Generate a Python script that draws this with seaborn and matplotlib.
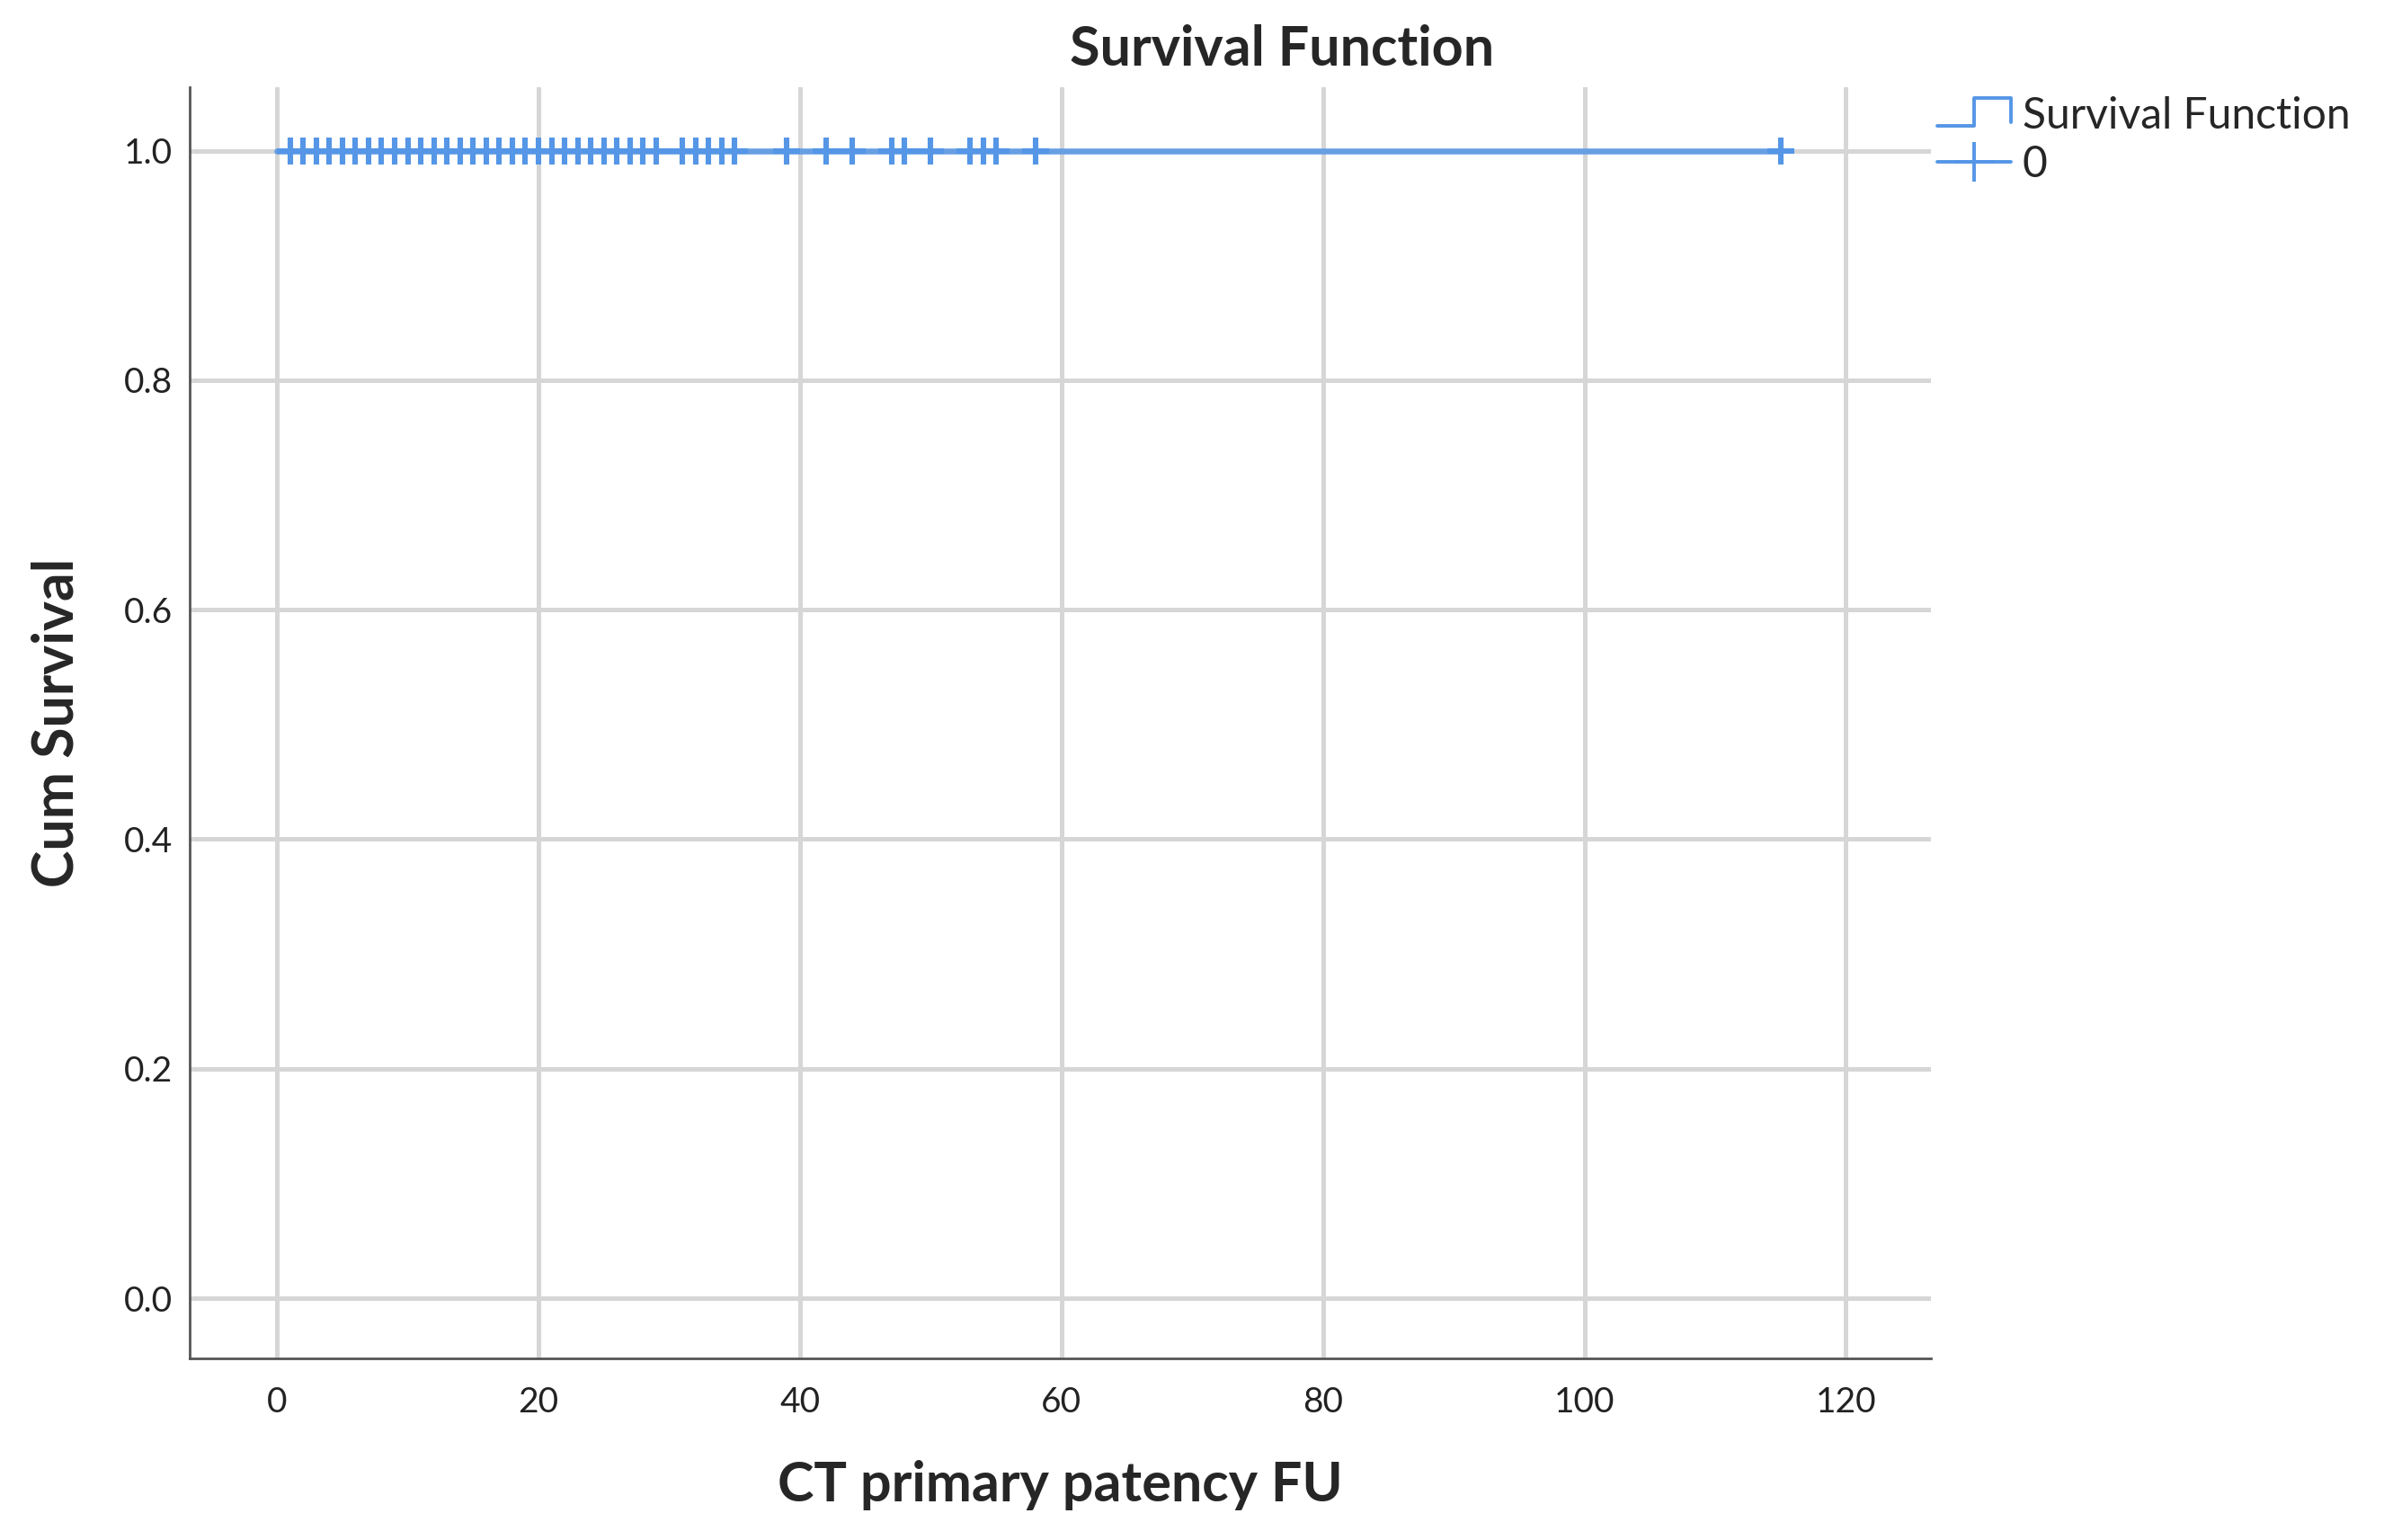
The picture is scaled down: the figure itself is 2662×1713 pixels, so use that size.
import numpy as np
import pandas as pd
import matplotlib
matplotlib.use("Agg")
import matplotlib.pyplot as plt
from matplotlib.lines import Line2D
from matplotlib.legend_handler import HandlerBase
import seaborn as sns

# follow-up times (months) read off the censor marks, no events observed
fu_months = [1, 2, 3, 4, 5, 6, 7, 8, 9, 10, 11, 12, 13, 14, 15, 16, 17, 18, 19, 20,
             21, 22, 23, 24, 25, 26, 27, 28, 29, 31, 32, 33, 34, 35, 39, 42, 44, 47,
             48, 50, 53, 54, 55, 58, 115]
event = [0, 0, 0, 0, 0, 0, 0, 0, 0, 0, 0, 0, 0, 0, 0, 0, 0, 0, 0, 0,
         0, 0, 0, 0, 0, 0, 0, 0, 0, 0, 0, 0, 0, 0, 0, 0, 0, 0,
         0, 0, 0, 0, 0, 0, 0]
x_ticks = [0, 20, 40, 60, 80, 100, 120]
y_ticks = [0.0, 0.2, 0.4, 0.6, 0.8, 1.0]

BLUE = "#5596e6"

# Kaplan-Meier estimate
df = pd.DataFrame({"time": fu_months, "event": event}).sort_values("time")
surv = 1.0
curve = [(0.0, 1.0)]
censored = []
n_risk = len(df)
for t, grp in df.groupby("time"):
    d = grp["event"].sum()
    surv *= (1 - d / n_risk)
    curve.append((t, surv))
    if (grp["event"] == 0).any():
        censored.append((t, surv))
    n_risk -= len(grp)
curve_df = pd.DataFrame(curve, columns=["time", "surv"])
cens_df = pd.DataFrame(censored, columns=["time", "surv"])

sns.set_style("white")
plt.rcParams["font.family"] = ["Lato", "DejaVu Sans"]

fig = plt.figure(figsize=(13.31, 8.565), dpi=200)
ax = fig.add_axes([0.0793, 0.1179, 0.8069 - 0.0793, 0.9436 - 0.1179])

sns.lineplot(data=curve_df, x="time", y="surv", drawstyle="steps-post",
             estimator=None, color=BLUE, linewidth=2.4, alpha=0.85, ax=ax, zorder=3)
sns.scatterplot(data=cens_df, x="time", y="surv", marker="+", s=115,
                color=BLUE, linewidth=2.2, ax=ax, zorder=4)

ax.set_xlim(-6.67, 126.5)
ax.set_ylim(-0.0525, 1.0556)
ax.set_xticks(x_ticks)
ax.set_yticks(y_ticks)
ax.set_yticklabels([f"{v:.1f}" for v in y_ticks])
ax.grid(True, color="#d6d6d6", linewidth=1.8)
ax.set_axisbelow(True)
ax.tick_params(length=0, labelsize=14, colors="#222222")
ax.tick_params(axis="x", pad=11)
ax.tick_params(axis="y", pad=7)
for side in ["top", "right"]:
    ax.spines[side].set_visible(False)
for side in ["left", "bottom"]:
    ax.spines[side].set_color("#555555")
    ax.spines[side].set_linewidth(1.0)

ax.set_xlabel("")
ax.set_ylabel("")
fig.text(0.4432, 0.0356, "CT primary patency FU", ha="center", va="center",
         fontsize=22, fontweight="bold")
fig.text(0.0237, 0.531, "Cum Survival", ha="center", va="center", rotation=90,
         fontsize=22.5, fontweight="bold")
fig.text(0.5357, 0.968, "Survival Function", ha="center", va="center",
         fontsize=22, fontweight="bold")


class StepHandler(HandlerBase):
    def create_artists(self, legend, orig_handle, xdescent, ydescent, width,
                       height, fontsize, trans):
        x0, y0 = -xdescent, -ydescent
        xs = [x0, x0 + 0.5 * width, x0 + 0.5 * width, x0 + width, x0 + width]
        ys = [y0 + 0.1 * height, y0 + 0.1 * height, y0 + 1.0 * height,
              y0 + 1.0 * height, y0 + 0.2 * height]
        ln = Line2D(xs, ys, color=BLUE, linewidth=1.4)
        ln.set_transform(trans)
        return [ln]


step_handle = Line2D([], [], color=BLUE)
cens_handle = Line2D([], [], color=BLUE, linewidth=1.4, marker="+",
                     markersize=16, markeredgewidth=1.4)
ax.legend([step_handle, cens_handle], ["Survival Function", "0"],
          handler_map={step_handle: StepHandler()},
          loc="upper left", bbox_to_anchor=(0.8095, 0.9375),
          bbox_transform=fig.transFigure, frameon=False, fontsize=17.3,
          handlelength=1.7, handletextpad=0.27, borderpad=0, borderaxespad=0,
          labelspacing=0.2)

fig.savefig("out.png", dpi=200)
